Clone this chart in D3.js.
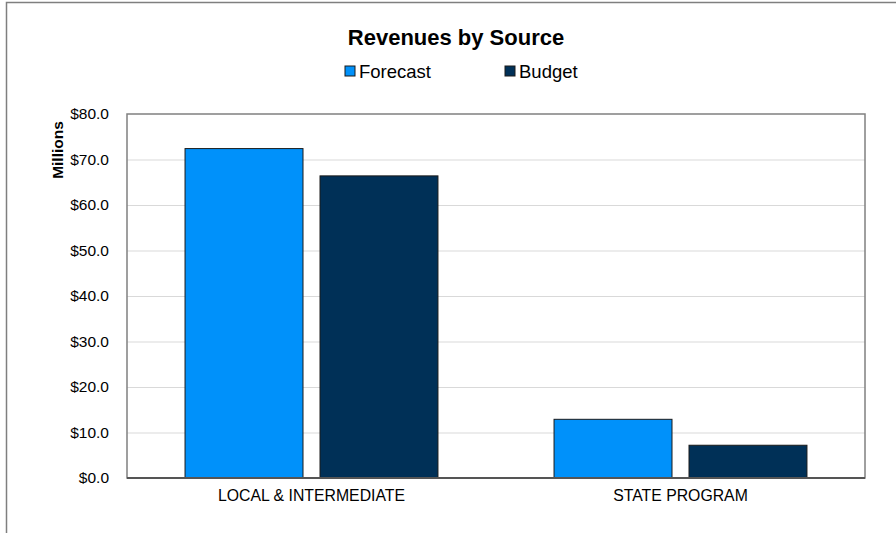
<!DOCTYPE html>
<html><head><meta charset="utf-8">
<script src="https://cdn.jsdelivr.net/npm/d3@7"></script>
<style>body{margin:0;background:#fff}svg{display:block;font-family:"Liberation Sans",Arial,sans-serif}</style>
</head><body><svg id="c" width="896" height="533"></svg>
<script>
const categories = ["LOCAL & INTERMEDIATE", "STATE PROGRAM"];
const seriesNames = ["Forecast", "Budget"];
const forecast = [72.4, 12.9];
const budget = [66.4, 7.2];
const yTicks = [0, 10, 20, 30, 40, 50, 60, 70, 80];
const colors = ["#0091FA", "#003057"];

const svg = d3.select("#c");
const L = 127, R = 865, T = 114, B = 478;

// outer frame
svg.append("path").attr("d", "M6.5,533 V2.5 H896").attr("fill","none").attr("stroke","#7f7f7f").attr("stroke-width",1.5);

const x = d3.scaleBand().domain(categories).range([L, R]);
const xs = d3.scaleBand().domain(seriesNames).range([0, x.bandwidth()]).paddingInner(0.126).paddingOuter(0.43);
const y = d3.scaleLinear().domain([0, 80]).range([B, T]);

// gridlines
svg.append("g").selectAll("line").data(yTicks.slice(1, -1)).join("line")
  .attr("x1", L).attr("x2", R).attr("y1", d => y(d) + 0.5).attr("y2", d => y(d) + 0.5)
  .attr("stroke", "#d9d9d9").attr("stroke-width", 1);

// plot border
svg.append("rect").attr("x", L).attr("y", T).attr("width", R - L).attr("height", B - T)
  .attr("fill", "none").attr("stroke", "#808080").attr("stroke-width", 1.5);

const data = categories.map((c, i) => ({c, vals: [forecast[i], budget[i]]}));
const g = svg.append("g");
data.forEach(d => {
  d.vals.forEach((v, j) => {
    g.append("rect")
      .attr("x", x(d.c) + xs(seriesNames[j]))
      .attr("y", y(v))
      .attr("width", xs.bandwidth())
      .attr("height", y(0) - y(v))
      .attr("fill", colors[j]).attr("stroke", "#1a1a1a").attr("stroke-width", 1);
  });
});

// bottom axis line
svg.append("line").attr("x1", L).attr("x2", R).attr("y1", B).attr("y2", B).attr("stroke", "#555").attr("stroke-width", 2);

// y axis labels
const yAxis = d3.axisLeft(y).tickValues(yTicks).tickSize(0).tickPadding(18).tickFormat(d => "$" + d3.format(".1f")(d));
const ya = svg.append("g").attr("transform", `translate(${L},0)`).call(yAxis)
  .attr("font-size", 15.5).attr("font-family", "Liberation Sans, Arial, sans-serif");
ya.select(".domain").remove();
ya.selectAll("text").attr("fill", "#000");

// x axis labels
const xAxis = d3.axisBottom(x).tickSize(0).tickPadding(12);
const xa = svg.append("g").attr("transform", `translate(0,${B})`).call(xAxis)
  .attr("font-size", 15.8).attr("font-family", "Liberation Sans, Arial, sans-serif");
xa.select(".domain").remove();
xa.selectAll("text").attr("fill", "#000");

// y title
svg.append("text").attr("transform", "translate(63,150) rotate(-90)").attr("text-anchor", "middle")
  .attr("font-size", 15.5).attr("font-weight", "bold").text("Millions");

// title
svg.append("text").attr("x", 456).attr("y", 45).attr("text-anchor", "middle")
  .attr("font-size", 22).attr("font-weight", "bold").text("Revenues by Source");

// legend
const legX = [345, 505];
seriesNames.forEach((s, i) => {
  svg.append("rect").attr("x", legX[i]).attr("y", 66).attr("width", 10).attr("height", 10)
    .attr("fill", colors[i]).attr("stroke", "#1a1a1a").attr("stroke-width", 1);
  svg.append("text").attr("x", legX[i] + 14).attr("y", 77.5).attr("font-size", 18.5).text(s);
});
</script></body></html>
